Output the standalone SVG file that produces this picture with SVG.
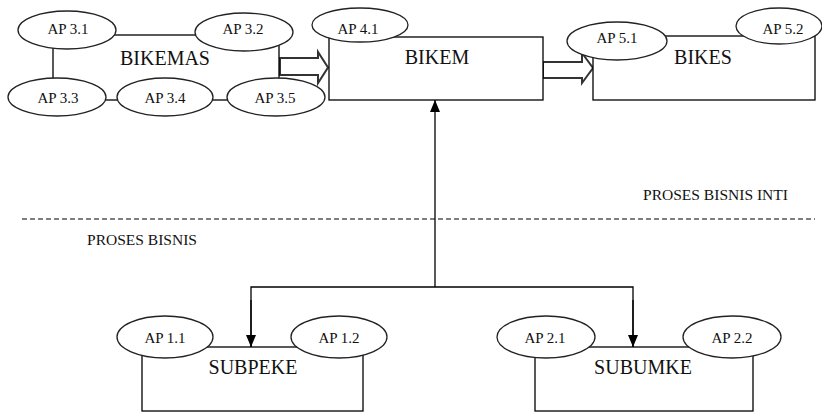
<svg xmlns="http://www.w3.org/2000/svg" width="822" height="415" viewBox="0 0 822 415">
<defs>
<style>
.box{fill:#fff;stroke:#000;stroke-width:1.3}
.ell{fill:#fff;stroke:#222;stroke-width:1.3}
.ap{font-family:"Liberation Serif","Times New Roman",serif;font-size:15px;fill:#111;text-anchor:middle}
.big{font-family:"Liberation Serif","Times New Roman",serif;font-size:20px;fill:#111;text-anchor:middle}
.lbl{font-family:"Liberation Serif","Times New Roman",serif;font-size:14px;fill:#111}
.ln{fill:none;stroke:#000;stroke-width:1.3}
.blk{fill:#fff;stroke:#333;stroke-width:2}
</style>
<marker id="ah" viewBox="0 0 12 10" refX="12" refY="5" markerWidth="12" markerHeight="10" markerUnits="userSpaceOnUse" orient="auto">
<path d="M0,0 L12,5 L0,10 Z" fill="#000"/>
</marker>
</defs>
<rect width="822" height="415" fill="#fff"/>

<g id="divider">
<line x1="22" y1="219" x2="815" y2="219" stroke="#000" stroke-width="1.2" stroke-dasharray="5,3"/>
<text class="lbl" x="643" y="200" textLength="145" lengthAdjust="spacingAndGlyphs">PROSES BISNIS INTI</text>
<text class="lbl" x="87" y="245" textLength="110" lengthAdjust="spacingAndGlyphs">PROSES BISNIS</text>
</g>

<g id="connectors">
<polygon class="blk" points="280,58 318,58 318,52 328,67.5 318,83 318,75 280,75"/>
<polygon class="blk" points="543,62 582,62 582,53 593,68 582,83 582,78 543,78"/>
<line class="ln" x1="435" y1="287" x2="435" y2="100" marker-end="url(#ah)"/>
<polyline class="ln" points="251,347 251,287 633,287 633,347"/>
<line class="ln" x1="251" y1="300" x2="251" y2="347" marker-end="url(#ah)"/>
<line class="ln" x1="633" y1="300" x2="633" y2="347" marker-end="url(#ah)"/>
</g>

<g id="bikemas">
<rect class="box" x="53" y="35" width="226" height="65"/>
<text class="big" x="165" y="65">BIKEMAS</text>
<g id="ap31"><ellipse class="ell" cx="67" cy="30" rx="49" ry="19"/><text class="ap" x="68" y="34">AP 3.1</text></g>
<g id="ap32"><ellipse class="ell" cx="244" cy="32" rx="49" ry="19"/><text class="ap" x="243" y="34">AP 3.2</text></g>
<g id="ap33"><ellipse class="ell" cx="57" cy="97" rx="49" ry="19"/><text class="ap" x="58" y="103">AP 3.3</text></g>
<g id="ap34"><ellipse class="ell" cx="165" cy="97" rx="48" ry="19"/><text class="ap" x="165" y="103">AP 3.4</text></g>
<g id="ap35"><ellipse class="ell" cx="276" cy="97" rx="49" ry="19"/><text class="ap" x="275" y="103">AP 3.5</text></g>
</g>

<g id="bikem">
<rect class="box" x="329" y="37" width="214" height="63"/>
<text class="big" x="437" y="64">BIKEM</text>
<g id="ap41"><ellipse class="ell" cx="360" cy="25" rx="48" ry="17"/><text class="ap" x="358" y="34">AP 4.1</text></g>
</g>

<g id="bikes">
<rect class="box" x="593" y="36" width="222" height="64"/>
<text class="big" x="703" y="64">BIKES</text>
<g id="ap51"><ellipse class="ell" cx="617" cy="41" rx="50" ry="19"/><text class="ap" x="617" y="43">AP 5.1</text></g>
<g id="ap52"><ellipse class="ell" cx="779" cy="26" rx="43" ry="18"/><text class="ap" x="783" y="34">AP 5.2</text></g>
</g>

<g id="subpeke">
<rect class="box" x="142" y="347" width="221" height="64"/>
<text class="big" x="253" y="374">SUBPEKE</text>
<g id="ap11"><ellipse class="ell" cx="165" cy="337" rx="48" ry="21"/><text class="ap" x="165" y="343">AP 1.1</text></g>
<g id="ap12"><ellipse class="ell" cx="339" cy="337" rx="48" ry="21"/><text class="ap" x="339" y="343">AP 1.2</text></g>
</g>

<g id="subumke">
<rect class="box" x="535" y="347" width="218" height="64"/>
<text class="big" x="643" y="374">SUBUMKE</text>
<g id="ap21"><ellipse class="ell" cx="546" cy="337" rx="49" ry="21"/><text class="ap" x="545" y="343">AP 2.1</text></g>
<g id="ap22"><ellipse class="ell" cx="732" cy="337" rx="49" ry="21"/><text class="ap" x="732" y="343">AP 2.2</text></g>
</g>
</svg>
